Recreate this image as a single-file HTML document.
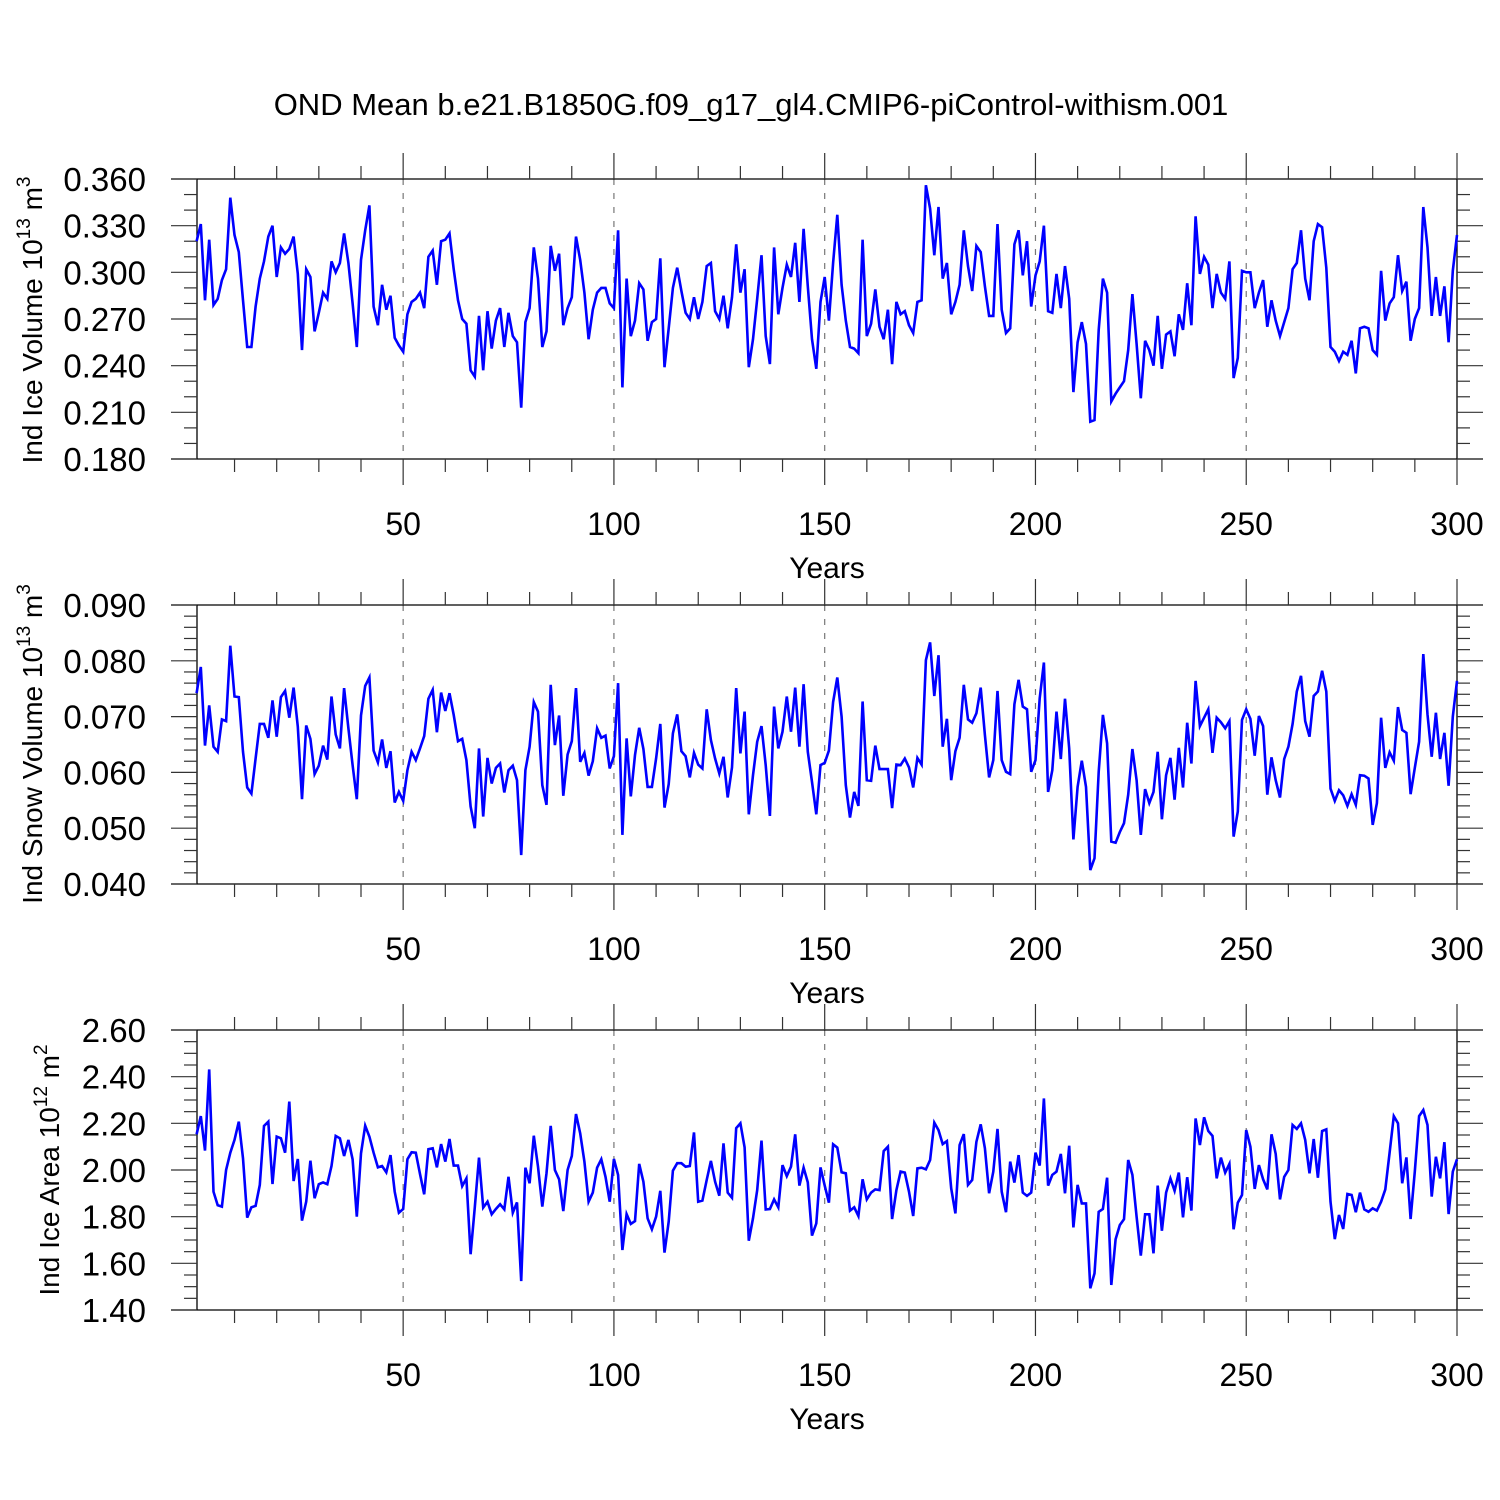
<!DOCTYPE html>
<html><head><meta charset="utf-8"><style>
html,body{margin:0;padding:0;background:#fff;}
svg{display:block;font-family:"Liberation Sans",Arial,sans-serif;}
</style></head><body>
<svg id="chart" width="1500" height="1500" viewBox="0 0 1500 1500" xmlns="http://www.w3.org/2000/svg">
<text x="751" y="115" font-size="31" text-anchor="middle">OND Mean b.e21.B1850G.f09_g17_gl4.CMIP6-piControl-withism.001</text>
</svg>
<script>
const xTicks = [50, 100, 150, 200, 250, 300];
const iceVolume = [0.320,0.331,0.282,0.321,0.279,0.283,0.295,0.302,0.348,0.324,0.313,0.282,0.252,0.252,0.278,0.296,0.307,0.323,0.330,0.297,0.316,0.312,0.315,0.323,0.299,0.250,0.302,0.297,0.262,0.274,0.287,0.283,0.307,0.300,0.306,0.325,0.306,0.280,0.252,0.308,0.327,0.343,0.278,0.266,0.292,0.276,0.285,0.258,0.253,0.249,
0.273,0.281,0.283,0.287,0.277,0.310,0.314,0.292,0.320,0.321,0.325,0.302,0.282,0.270,0.267,0.237,0.233,0.272,0.237,0.275,0.251,0.269,0.277,0.252,0.274,0.259,0.255,0.213,0.268,0.277,0.316,0.296,0.252,0.262,0.317,0.301,0.312,0.266,0.277,0.284,0.323,0.308,0.287,0.257,0.276,0.287,0.290,0.290,0.280,0.277,
0.327,0.226,0.296,0.259,0.269,0.293,0.289,0.256,0.268,0.270,0.309,0.239,0.264,0.290,0.303,0.288,0.274,0.270,0.284,0.270,0.281,0.304,0.306,0.275,0.270,0.285,0.264,0.284,0.318,0.287,0.302,0.239,0.257,0.283,0.311,0.259,0.241,0.316,0.273,0.290,0.305,0.297,0.319,0.281,0.328,0.291,0.257,0.238,0.281,0.297,
0.269,0.306,0.337,0.292,0.269,0.252,0.251,0.248,0.321,0.259,0.267,0.289,0.265,0.257,0.276,0.241,0.281,0.273,0.275,0.266,0.261,0.281,0.282,0.356,0.341,0.311,0.342,0.296,0.306,0.273,0.281,0.292,0.327,0.304,0.288,0.317,0.313,0.291,0.272,0.272,0.331,0.276,0.261,0.264,0.318,0.327,0.298,0.320,0.278,0.298,
0.307,0.330,0.275,0.274,0.299,0.277,0.304,0.283,0.223,0.255,0.268,0.254,0.204,0.205,0.263,0.296,0.287,0.217,0.222,0.226,0.230,0.250,0.286,0.254,0.219,0.256,0.250,0.240,0.272,0.238,0.260,0.262,0.246,0.273,0.263,0.293,0.266,0.336,0.299,0.310,0.305,0.277,0.299,0.287,0.283,0.307,0.232,0.245,0.301,0.300,
0.300,0.277,0.287,0.295,0.265,0.282,0.269,0.259,0.268,0.277,0.302,0.306,0.327,0.296,0.282,0.320,0.331,0.329,0.303,0.252,0.249,0.243,0.249,0.247,0.256,0.235,0.264,0.265,0.264,0.250,0.247,0.301,0.269,0.280,0.284,0.311,0.288,0.294,0.256,0.270,0.277,0.342,0.316,0.272,0.297,0.272,0.291,0.255,0.301,0.324];
const snowVolume = [74.2,78.9,64.8,72.0,64.6,63.7,69.5,69.2,82.7,73.6,73.5,63.7,57.3,56.2,62.5,68.7,68.7,66.2,72.9,66.4,73.5,74.6,69.8,75.2,68.2,55.2,68.4,66.0,59.7,61.2,64.8,62.3,73.6,66.8,64.3,75.1,67.9,61.3,55.2,70.2,75.5,77.0,63.9,61.8,65.9,60.8,63.8,54.6,56.5,54.9,
60.4,63.7,62.2,64.3,66.5,73.2,74.8,67.2,74.3,71.0,74.2,70.3,65.6,66.0,62.2,53.9,50.0,64.3,52.1,62.6,58.0,60.8,61.6,56.4,60.4,61.2,58.6,45.2,60.4,64.6,72.6,70.9,57.7,54.2,75.7,64.9,70.2,55.8,63.2,65.6,75.1,61.9,63.5,59.4,62.0,67.9,66.2,66.6,60.7,62.9,
76.0,48.8,66.1,55.7,63.1,68.0,64.2,57.4,57.4,62.5,68.7,53.7,57.9,67.0,70.4,63.8,62.9,59.1,63.5,61.4,60.7,71.3,65.8,62.5,59.8,62.8,55.5,60.9,75.1,63.4,70.9,52.5,59.5,65.5,68.3,61.3,52.2,71.8,64.3,67.3,73.6,67.3,75.2,64.6,75.8,63.7,58.3,52.5,61.3,61.7,
63.9,72.6,77.0,70.0,57.7,51.9,56.5,54.0,72.7,58.6,58.5,64.8,60.6,60.6,60.6,53.6,61.4,61.3,62.5,60.9,57.3,62.6,61.4,80.1,83.3,73.7,81.0,64.6,69.6,58.6,63.8,66.2,75.7,69.5,68.9,70.6,75.2,66.7,59.1,62.2,74.6,62.2,60.1,59.7,72.2,76.6,71.8,71.3,60.1,62.2,
73.3,79.7,56.5,60.4,70.9,62.4,73.2,64.3,48.0,57.4,62.1,57.4,42.5,44.6,60.1,70.3,65.2,47.6,47.4,49.3,50.9,56.0,64.2,58.6,48.8,57.0,54.5,56.5,63.7,51.6,59.5,62.6,55.1,64.4,57.3,68.9,61.6,76.4,68.3,69.8,71.3,63.5,69.8,69.0,67.9,69.2,48.5,53.0,69.4,71.3,
69.6,63.0,70.1,68.3,56.0,62.7,58.6,55.5,62.4,64.6,68.7,74.5,77.3,69.2,66.4,73.7,74.5,78.2,74.5,57.1,54.9,56.8,55.9,54.0,56.1,54.2,59.5,59.4,58.9,50.6,54.5,69.8,60.8,63.6,62.1,71.7,67.6,67.1,56.1,60.8,65.5,81.2,70.4,62.8,70.7,62.4,67.1,57.6,70.0,76.4];
const iceArea = [2.153,2.231,2.083,2.431,1.907,1.849,1.843,2.000,2.074,2.129,2.207,2.050,1.796,1.840,1.846,1.936,2.189,2.207,1.940,2.143,2.136,2.074,2.293,1.953,2.047,1.783,1.864,2.040,1.879,1.939,1.947,1.939,2.017,2.146,2.136,2.060,2.129,2.046,1.800,2.071,2.190,2.143,2.074,2.011,2.017,1.990,2.064,1.907,1.817,1.833,
2.046,2.076,2.074,1.983,1.896,2.089,2.093,2.011,2.111,2.036,2.133,2.019,2.019,1.931,1.964,1.639,1.840,2.053,1.839,1.864,1.810,1.833,1.853,1.831,1.971,1.817,1.861,1.524,2.010,1.943,2.147,2.014,1.843,1.986,2.189,2.000,1.960,1.824,2.000,2.060,2.240,2.157,2.036,1.864,1.903,2.010,2.046,1.971,1.864,2.047,
1.979,1.657,1.811,1.769,1.781,2.026,1.950,1.793,1.746,1.800,1.911,1.646,1.779,1.997,2.029,2.029,2.014,2.017,2.161,1.864,1.869,1.957,2.039,1.950,1.890,2.114,1.903,1.881,2.179,2.200,2.097,1.697,1.793,1.914,2.126,1.831,1.833,1.874,1.840,2.021,1.974,2.014,2.153,1.933,2.010,1.947,1.719,1.771,2.011,1.933,
1.860,2.110,2.096,1.990,1.986,1.826,1.840,1.803,1.960,1.874,1.903,1.917,1.914,2.081,2.100,1.790,1.914,1.993,1.989,1.907,1.803,2.007,2.010,2.003,2.043,2.203,2.171,2.111,2.124,1.921,1.814,2.107,2.154,1.936,1.957,2.121,2.196,2.093,1.900,1.993,2.176,1.907,1.819,2.036,1.946,2.064,1.903,1.889,1.903,2.074,
2.019,2.307,1.933,1.979,1.993,2.069,1.900,2.104,1.754,1.936,1.857,1.857,1.493,1.557,1.821,1.833,1.967,1.507,1.703,1.764,1.789,2.043,1.979,1.800,1.633,1.810,1.810,1.643,1.933,1.740,1.903,1.964,1.911,1.989,1.797,1.969,1.826,2.221,2.107,2.226,2.167,2.146,1.964,2.053,1.989,2.026,1.746,1.860,1.893,2.171,
2.100,1.919,2.021,1.960,1.917,2.153,2.069,1.874,1.971,2.000,2.193,2.176,2.200,2.129,1.986,2.133,1.967,2.167,2.174,1.864,1.704,1.807,1.747,1.897,1.893,1.819,1.903,1.831,1.821,1.836,1.826,1.864,1.917,2.074,2.231,2.200,1.943,2.054,1.790,1.993,2.231,2.257,2.193,1.886,2.057,1.964,2.119,1.811,1.993,2.046];
const iceVolTicks = ["0.360","0.330","0.300","0.270","0.240","0.210","0.180"];
const snowTicks = ["0.090","0.080","0.070","0.060","0.050","0.040"];
const areaTicks = ["2.60","2.40","2.20","2.00","1.80","1.60","1.40"];

const NS = "http://www.w3.org/2000/svg";
const svg = document.getElementById('chart');
const X0 = 196.6, X1 = 1457;
function xs(yr){ return X0 + (yr-1)*(X1-X0)/299; }
function mk(tag, attrs, parent){
  const e = document.createElementNS(NS, tag);
  for (const k in attrs) e.setAttribute(k, attrs[k]);
  (parent||svg).appendChild(e);
  return e;
}

const panels = [
  {key:'ice-volume', top:179, bot:459, data:iceVolume, vmax:0.360, vmin:0.180, ticks:iceVolTicks, minorStep:0.010, scale:1,
   label:['Ind Ice Volume 10','13',' m','3'], lx:42, ly:320},
  {key:'snow-volume', top:605, bot:884, data:snowVolume, vmax:90, vmin:40, ticks:snowTicks, minorStep:2, scale:1000,
   label:['Ind Snow Volume 10','13',' m','3'], lx:42, ly:744},
  {key:'ice-area', top:1030, bot:1310, data:iceArea, vmax:2.60, vmin:1.40, ticks:areaTicks, minorStep:0.05, scale:1,
   label:['Ind Ice Area 10','12',' m','2'], lx:59, ly:1170}
];

panels.forEach(p => {
  const g = mk('g', {});
  
  
  const ys = v => p.top + (p.vmax - v)/(p.vmax - p.vmin)*(p.bot - p.top);
  xTicks.slice(0,5).forEach(t => {
    const l = mk('line', {x1:xs(t), x2:xs(t), y1:p.top, y2:p.bot, stroke:'#777', 'stroke-width':1.2, 'stroke-dasharray':'6,8'}, g);
    
    
  });
  const fr = mk('path', {d:`M171,${p.top}H1483M171,${p.bot}H1483M197,${p.top}V${p.bot}M1457,${p.top}V${p.bot}`, stroke:'#000', 'stroke-width':1.3, fill:'none'}, g);
  
  
  for (let yr=10; yr<=300; yr+=10){
    const major = yr%50===0;
    const len = major?26:13;
    mk('line', {x1:xs(yr), x2:xs(yr), y1:p.bot, y2:p.bot+len, stroke:'#333', 'stroke-width':1.2}, g);
    mk('line', {x1:xs(yr), x2:xs(yr), y1:p.top, y2:p.top-len, stroke:'#333', 'stroke-width':1.2}, g);
  }
  xTicks.forEach(t => {
    const tx = mk('text', {x:xs(t), y:p.bot+76, 'font-size':32, 'text-anchor':'middle'}, g);
    tx.textContent = t;
    
    
  });
  const xt = mk('text', {x:827, y:p.bot+119, 'font-size':30, 'text-anchor':'middle'}, g);
  xt.textContent = 'Years';
  
  
  const vals = p.ticks.map(s => parseFloat(s)*p.scale);
  for (let v=p.vmin; v<=p.vmax+1e-9; v+=p.minorStep){
    const y = ys(v);
    const isMajor = vals.some(m => Math.abs(m-v) < p.minorStep*0.1);
    const len = isMajor?26:13;
    mk('line', {x1:197-len, x2:197, y1:y, y2:y, stroke:'#333', 'stroke-width':1.2}, g);
    mk('line', {x1:1457, x2:1457+len, y1:y, y2:y, stroke:'#333', 'stroke-width':1.2}, g);
  }
  p.ticks.forEach((s,i) => {
    const tl = mk('text', {x:146, y:ys(vals[i])+12, 'font-size':33, 'text-anchor':'end'}, g);
    tl.textContent = s;
    
    
  });
  const yl = mk('text', {x:0, y:0, 'font-size':28, 'text-anchor':'middle', transform:`translate(${p.lx},${p.ly}) rotate(-90)`}, g);
  
  
  const parts = p.label;
  const t1 = mk('tspan', {}, yl); t1.textContent = parts[0];
  const t2 = mk('tspan', {'font-size':19, dy:-12}, yl); t2.textContent = parts[1];
  const t3 = mk('tspan', {dy:12}, yl); t3.textContent = parts[2];
  const t4 = mk('tspan', {'font-size':19, dy:-12}, yl); t4.textContent = parts[3];
  const pts = p.data.map((v,i) => xs(i+1).toFixed(1) + ',' + ys(v).toFixed(1)).join(' ');
  const pl = mk('polyline', {points:pts, fill:'none', stroke:'#0000ff', 'stroke-width':2.6, 'stroke-linejoin':'miter', 'stroke-miterlimit':4}, g);
  
  
});
</script>
</body></html>
